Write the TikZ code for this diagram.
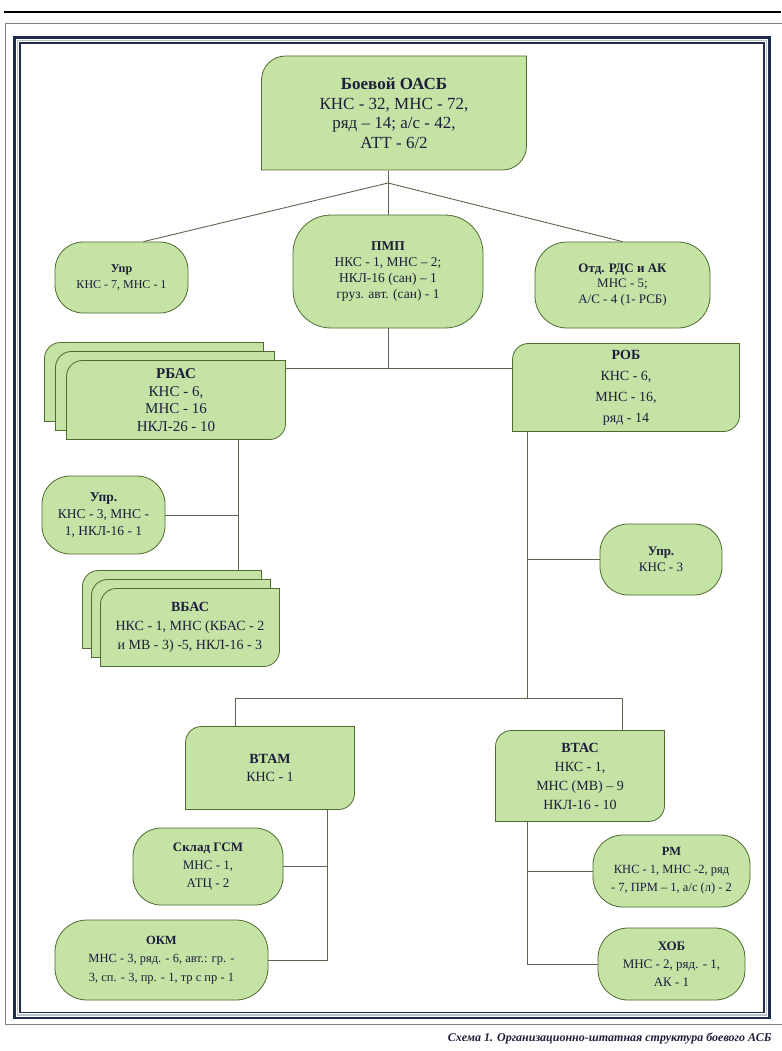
\documentclass[tikz,border=0pt]{standalone}
\usepackage{fontspec}
\setmainfont{Liberation Serif}
\usetikzlibrary{calc}
\definecolor{boxfill}{HTML}{C5E3A5}
\definecolor{boxline}{HTML}{4F6A2E}
\definecolor{wire}{HTML}{5B6650}
\definecolor{ink}{HTML}{1E1E3C}
\definecolor{framec}{HTML}{1F2B4D}
\tikzset{
  diagbox/.style={rectangle, inner sep=0pt, align=center, text=ink,
    path picture={
      \coordinate (pA) at ([shift={(0.5pt,-0.5pt)}]path picture bounding box.north west);
      \coordinate (pB) at ([shift={(-0.5pt,0.5pt)}]path picture bounding box.south east);
      \draw[fill=boxfill, draw=boxline, line width=0.8pt]
        (pA -| pB) -- ([yshift=#1]pB) arc[start angle=0, end angle=-90, radius=#1]
        -- (pA |- pB) -- ([yshift=-#1]pA) arc[start angle=180, end angle=90, radius=#1] -- cycle;
    }},
  diagbox/.default=16pt,
  roundbox/.style={rectangle, rounded corners=#1, draw=boxline, fill=boxfill,
    line width=0.8pt, inner sep=0pt, align=center, text=ink},
  roundbox/.default=28pt,
  wire/.style={draw=wire, line width=0.9pt},
  fs/.style={font=\fontsize{#1}{\dimexpr #1pt*13/10\relax}\selectfont}
}
\newcommand{\fz}[2]{\fontsize{#1}{#2}\selectfont}
\begin{document}
\begin{tikzpicture}[x=1pt,y=-1pt]
\useasboundingbox (0,0) rectangle (781,1051);
\draw[line width=2.5pt] (4,12) -- (781,12);
\draw[gray, line width=0.8pt] (5,23) rectangle (795,1024);
\draw[framec, line width=2.8pt] (14.5,37.5) rectangle (769.5,1018);
\draw[framec!30, line width=1.2pt] (17.5,40.5) rectangle (766.5,1015);
\draw[framec, line width=1.2pt] (20,43) rectangle (764,1012.5);

\node[diagbox=24pt, font=\fz{17}{19.5}, minimum width=266pt, minimum height=115pt] (oasb) at (394,113)
  {\textbf{Боевой ОАСБ}\\КНС - 32, МНС - 72,\\ряд – 14; а/с - 42,\\АТТ - 6/2};
\node[roundbox=28pt, font=\fz{12}{16}, minimum width=133pt, minimum height=71pt] (upr) at (121.5,277.5)
  {\textbf{Упр}\\КНС - 7, МНС - 1};
\node[roundbox=38pt, font=\fz{13.5}{16}, minimum width=190pt, minimum height=113pt] (pmp) at (388,271.5)
  {\textbf{ПМП}\\НКС - 1, МНС – 2;\\НКЛ-16 (сан) – 1\\груз. авт. (сан) - 1};
\node[roundbox=32pt, font=\fz{13}{15.5}, minimum width=175pt, minimum height=86pt] (otd) at (622.5,285)
  {\textbf{Отд. РДС и АК}\\МНС - 5;\\А/С - 4 (1- РСБ)};

\node[diagbox, minimum width=220pt, minimum height=80pt] (rbasC) at (154,382) {};
\node[diagbox, minimum width=220pt, minimum height=80pt] (rbasB) at (165,391) {};
\node[diagbox, font=\fz{15}{17.5}, minimum width=220pt, minimum height=80pt] (rbas) at (176,400)
  {\textbf{РБАС}\\КНС - 6,\\МНС - 16\\НКЛ-26 - 10};
\node[diagbox, font=\fz{14}{21}, minimum width=228pt, minimum height=89pt] (rob) at (626,387.5)
  {\textbf{РОБ}\\КНС - 6,\\МНС - 16,\\ряд - 14};

\node[roundbox, font=\fz{13.5}{17}, minimum width=123pt, minimum height=78pt] (upr2) at (103.5,515)
  {\textbf{Упр.}\\КНС - 3, МНС -\\1, НКЛ-16 - 1};
\node[roundbox, font=\fz{13}{16}, minimum width=122pt, minimum height=71pt] (upr3) at (661,559.5)
  {\textbf{Упр.}\\КНС - 3};

\node[diagbox, minimum width=180pt, minimum height=79pt] (vbasC) at (172,609.5) {};
\node[diagbox, minimum width=180pt, minimum height=79pt] (vbasB) at (181,618.5) {};
\node[diagbox, font=\fz{14}{19}, minimum width=180pt, minimum height=79pt] (vbas) at (190,627.5)
  {\textbf{ВБАС}\\НКС - 1, МНС (КБАС - 2\\и МВ - 3) -5, НКЛ-16 - 3};

\node[diagbox, font=\fz{14}{18}, minimum width=170pt, minimum height=84pt] (vtam) at (270,768)
  {\textbf{ВТАМ}\\КНС - 1};
\node[diagbox, font=\fz{14}{19}, minimum width=170pt, minimum height=92pt] (vtas) at (580,776)
  {\textbf{ВТАС}\\НКС - 1,\\МНС (МВ) – 9\\НКЛ-16 - 10};

\node[roundbox, font=\fz{13}{18}, minimum width=150pt, minimum height=77pt] (sklad) at (208,866.5)
  {\textbf{Склад ГСМ}\\МНС - 1,\\АТЦ - 2};
\node[roundbox=32pt, font=\fz{12.5}{18.5}, minimum width=213pt, minimum height=80pt] (okm) at (161.5,960)
  {\textbf{ОКМ}\\МНС - 3, ряд. - 6, авт.: гр. -\\3, сп. - 3, пр. - 1, тр с пр - 1};
\node[roundbox=30pt, font=\fz{12.5}{18}, minimum width=157pt, minimum height=72pt] (rm) at (671.5,871)
  {\textbf{РМ}\\КНС - 1, МНС -2, ряд\\- 7, ПРМ – 1, а/с (л) - 2};
\node[roundbox=30pt, font=\fz{13}{18}, minimum width=147pt, minimum height=72pt] (xob) at (671.5,964)
  {\textbf{ХОБ}\\МНС - 2, ряд. - 1,\\АК - 1};

\coordinate (j0) at (388,183);
\coordinate (j1) at (388,368);
\coordinate (r1) at (238,523);
\coordinate (r2) at (527,698);
\coordinate (d1) at (235,698);
\coordinate (d2) at (622,698);
\coordinate (t1) at (327,815);
\coordinate (t2) at (527,822);
\draw[wire] (j0 |- oasb.south) -- (j0);
\draw[wire] (j0) -- ([xshift=22pt]upr.north);
\draw[wire] (j0) -- (pmp.north);
\draw[wire] (j0) -- (otd.north);
\draw[wire] (pmp.south) -- (j1);
\draw[wire] (rbas.east |- j1) -- (rob.west |- j1);
\draw[wire] (r1 |- rbas.south) -- (r1 |- vbasC.north);
\draw[wire] (upr2.east) -- (upr2.east -| r1);
\draw[wire] (r2 |- rob.south) -- (r2);
\draw[wire] (upr3.west) -- (upr3.west -| r2);
\draw[wire] (d1 |- vtam.north) -- (d1) -- (d2) -- (d2 |- vtas.north);
\draw[wire] (t1 |- vtam.south) -- (t1 |- okm.east) -- (okm.east);
\draw[wire] (sklad.east) -- (sklad.east -| t1);
\draw[wire] (t2 |- vtas.south) -- (t2 |- xob.west) -- (xob.west);
\draw[wire] (rm.west) -- (rm.west -| t2);

\node[anchor=base east, text=ink, font=\fz{12}{14}\bfseries\itshape] (cap) at (775,1041)
  {Схема 1. Организационно-штатная структура боевого АСБ};
\end{tikzpicture}
\end{document}
